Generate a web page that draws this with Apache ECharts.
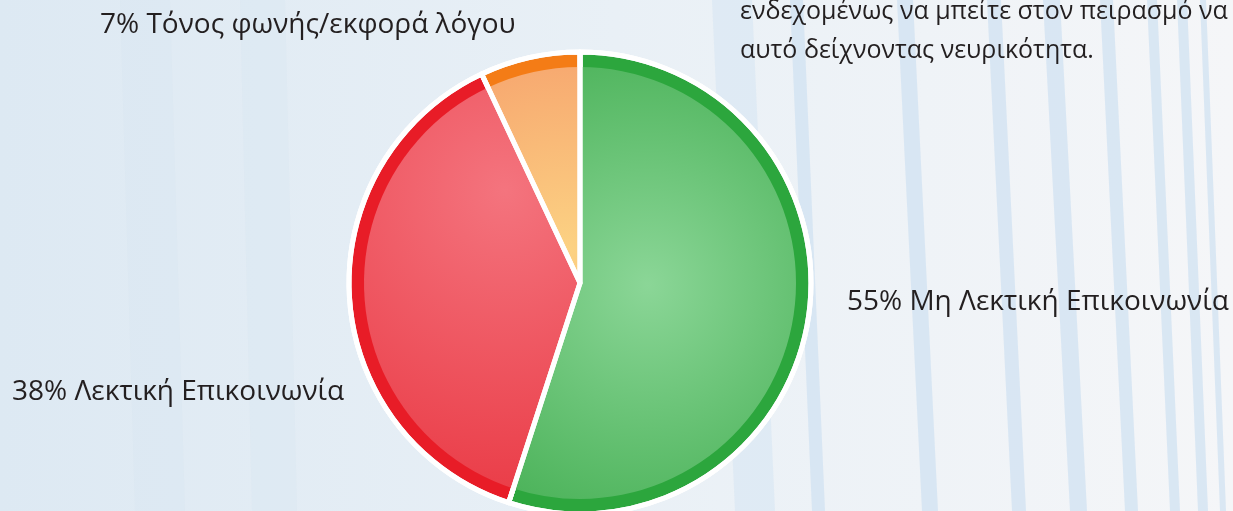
<!DOCTYPE html>
<html>
<head>
<meta charset="utf-8">
<script src="https://cdn.jsdelivr.net/npm/echarts@6/dist/echarts.min.js"></script>
<style>
html,body{margin:0;padding:0;background:#eef3f8;}
#chart{width:1233px;height:511px;}
</style>
</head>
<body>
<div id="chart"></div>
<script>
// ---- data ----
var categories = ['Μη Λεκτική Επικοινωνία', 'Λεκτική Επικοινωνία', 'Τόνος φωνής/εκφορά λόγου'];
var values = [55, 38, 7];
var bodyLines = ['ενδεχομένως να μπείτε στον πειρασμό να', 'αυτό δείχνοντας νευρικότητα.'];

// ---- styling ----
var CX = 580, CY = 283, R = 231, BAND = 15;
var bandColors = ['#2ca63d', '#e81c27', '#f47c16'];
var fills = [
  {x: 648, y: 285, r: 250, c0: '#8bd697', c1: '#4cb35a'},
  {x: 505, y: 190, r: 310, c0: '#f4747e', c1: '#ea3c47'},
  {x: 568, y: 250, r: 220, c0: '#fcd283', c1: '#f6a26d'}
];
var labelPos = [
  {x: 847, y: 302, align: 'left', verticalAlign: 'middle'},
  {x: 12, y: 392, align: 'left', verticalAlign: 'middle'},
  {x: 100, y: 25, align: 'left', verticalAlign: 'middle'}
];
var FONT = '"Open Sans", "Noto Sans", sans-serif';

function radial(f) {
  return {type: 'radial', x: f.x, y: f.y, r: f.r, global: true,
    colorStops: [{offset: 0, color: f.c0}, {offset: 1, color: f.c1}]};
}

// decorative background stripes (top x, bottom x, width, colour)
var stripes = [
  [712, 735, 40, 'rgba(208,226,242,0.45)'],
  [790, 812, 13, 'rgba(208,226,242,0.75)'],
  [897, 922, 16, 'rgba(208,226,242,0.75)'],
  [987, 1012, 14, 'rgba(208,226,242,0.75)'],
  [1043, 1070, 17, 'rgba(208,226,242,0.75)'],
  [1100, 1125, 13, 'rgba(208,226,242,0.75)'],
  [1147, 1170, 10, 'rgba(208,226,242,0.75)'],
  [1177, 1198, 10, 'rgba(208,226,242,0.75)'],
  [1200, 1220, 6, 'rgba(208,226,242,0.75)'],
  [120, 135, 50, 'rgba(210,226,240,0.25)'],
  [240, 252, 45, 'rgba(210,226,240,0.25)']
];
var graphics = stripes.map(function (s) {
  return {type: 'polygon', z: -10, silent: true,
    shape: {points: [[s[0], 0], [s[0] + s[2], 0], [s[1] + s[2], 511], [s[1], 511]]},
    style: {fill: s[3]}};
});
bodyLines.forEach(function (t, i) {
  graphics.push({type: 'text', left: 740, top: -1 + i * 39, z: 10,
    style: {text: t, fill: '#231f20', font: '25px ' + FONT}});
});

var chart = echarts.init(document.getElementById('chart'), null, {renderer: 'canvas'});
var dataBand = categories.map(function (n, i) {
  return {name: n, value: values[i], itemStyle: {color: bandColors[i]}};
});
var dataFill = categories.map(function (n, i) {
  return {name: n, value: values[i], itemStyle: {color: radial(fills[i])}};
});
var dataLine = categories.map(function (n, i) {
  return {name: n, value: values[i]};
});

chart.setOption({
  backgroundColor: {type: 'linear', x: 0, y: 0, x2: 1, y2: 0,
    colorStops: [{offset: 0, color: '#dde9f3'}, {offset: 0.5, color: '#e9f0f6'}, {offset: 1, color: '#f5f6f8'}]},
  animation: false,
  graphic: graphics,
  series: [
    {type: 'pie', center: [CX, CY], radius: [0, R], startAngle: 90, clockwise: true,
      silent: true, z: 2, label: {show: false}, labelLine: {show: false},
      itemStyle: {borderColor: '#ffffff', borderWidth: 5}, data: dataBand},
    {type: 'pie', center: [CX, CY], radius: [0, R - BAND], startAngle: 90, clockwise: true,
      silent: true, z: 3,
      itemStyle: {borderWidth: 0},
      label: {show: true, position: 'outside', color: '#231f20', fontSize: 28, fontFamily: FONT,
        overflow: 'none', width: 500,
        formatter: function (p) { return p.value + '% ' + p.name; }},
      labelLine: {show: false},
      labelLayout: function (p) { return labelPos[p.dataIndex]; },
      data: dataFill},
    {type: 'pie', center: [CX, CY], radius: [0, R], startAngle: 90, clockwise: true,
      silent: true, z: 4, label: {show: false}, labelLine: {show: false},
      itemStyle: {color: 'rgba(0,0,0,0)', borderColor: '#ffffff', borderWidth: 5}, data: dataLine}
  ]
});
</script>
</body>
</html>
